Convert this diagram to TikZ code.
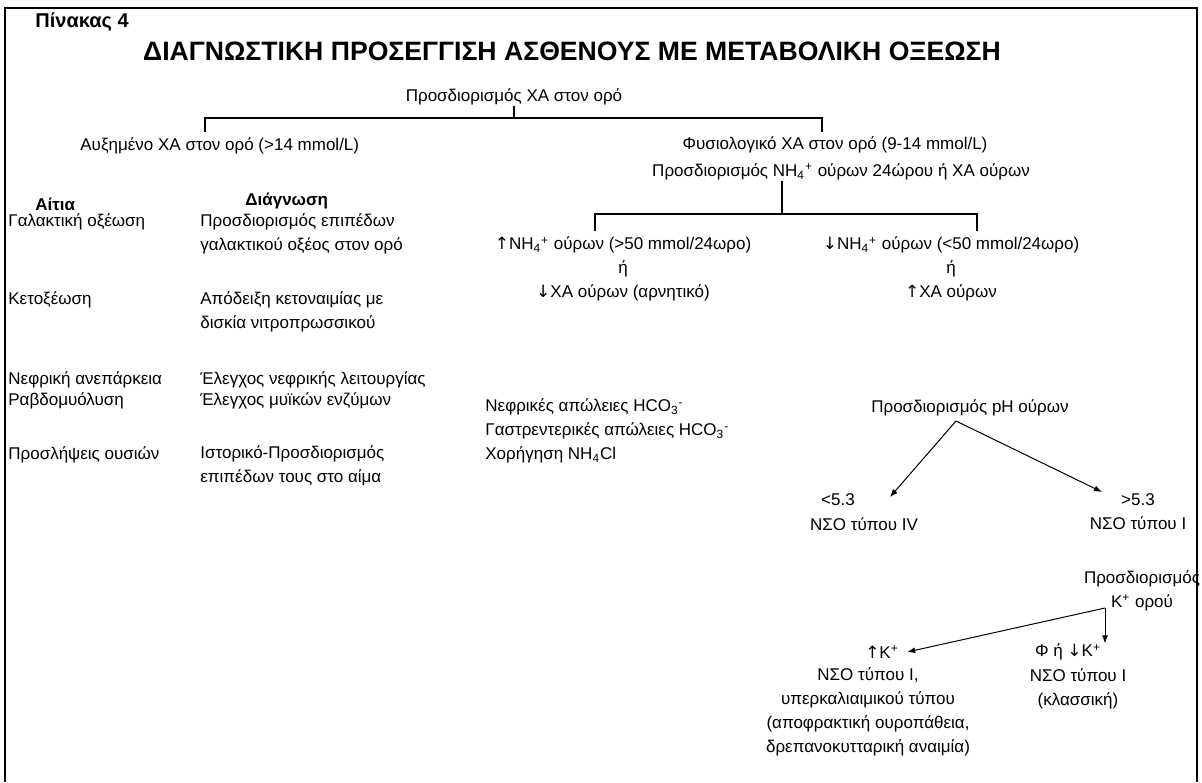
\documentclass[tikz,border=0pt]{standalone}
\usepackage{fontspec}
\setmainfont{Liberation Sans}
\newfontfamily\arrowfont{DejaVu Sans}
\usetikzlibrary{arrows.meta,positioning}

\newcommand{\uarr}{{\arrowfont\char"2191}}
\newcommand{\darr}{{\arrowfont\char"2193}}
\newcommand{\ionsub}[2]{\textsubscript{#1}\textsuperscript{#2}}

\begin{document}
\begin{tikzpicture}[x=0.5pt,y=-0.5pt,
	txt/.style={inner sep=0pt, font=\fontsize{8.5}{11.9}\selectfont},
	txtl/.style={txt, anchor=west, align=left},
	txtc/.style={txt, align=center},
	hdr/.style={txtl, font=\fontsize{8.5}{10}\selectfont\bfseries},
	brk/.style={line width=0.8pt},
	arr/.style={line width=0.5pt, -{Latex[length=4pt,width=3pt]}}]

	\useasboundingbox (0,0) rectangle (1202,782);

	% frame, open at the bottom
	\draw[line width=1.3pt] (5,782) -- (5,8) -- (1197,8) -- (1197,782);

	% heading
	\node[hdr, font=\fontsize{10}{12}\selectfont\bfseries] (tab) at (35,22) {Πίνακας 4};
	\node[txtc, font=\fontsize{13.3}{15}\selectfont\bfseries] (title) at (572,51)
		{ΔΙΑΓΝΩΣΤΙΚΗ ΠΡΟΣΕΓΓΙΣΗ ΑΣΘΕΝΟΥΣ ΜΕ ΜΕΤΑΒΟΛΙΚΗ ΟΞΕΩΣΗ};

	% first split: serum anion gap
	\node[txtc] (xa) at (514,97) {Προσδιορισμός ΧΑ στον ορό};
	\node[txtl] (high) at (80,146) {Αυξημένο ΧΑ στον ορό (>14 mmol/L)};
	\node[txtc] (norm) at (835,145) {Φυσιολογικό ΧΑ στον ορό (9-14 mmol/L)};
	\node[txtc] (nh4) at (841,172) {Προσδιορισμός NH\ionsub{4}{+} ούρων 24ώρου ή ΧΑ ούρων};

	\coordinate (b1L) at (205,118);
	\coordinate (b1R) at (822,118);
	\coordinate (b1Ld) at (205,132);
	\coordinate (b1Rd) at (822,132);
	\draw[brk] (xa.south) -- (xa.south |- b1L);
	\draw[brk] (b1Ld) -- (b1L) -- (b1R) -- (b1Rd);

	% causes and diagnosis
	\node[hdr] (cause) at (35,204) {Αίτια};
	\node[hdr] (diag) at (245,201) {Διάγνωση};

	\node[txtl] (c1) at (8,222) {Γαλακτική οξέωση};
	\node[txtl] (c2) at (8,300) {Κετοξέωση};
	\node[txtl] (c3) at (8,380) {Νεφρική ανεπάρκεια};
	\node[txtl] (c4) at (8,401) {Ραβδομυόλυση};
	\node[txtl] (c5) at (8,455) {Προσλήψεις ουσιών};

	\node[txtl] (d1) at (200,234) {Προσδιορισμός επιπέδων\\γαλακτικού οξέος στον ορό};
	\node[txtl] (d2) at (200,312) {Απόδειξη κετοναιμίας με\\δισκία νιτροπρωσσικού};
	\node[txtl] (d3) at (200,380) {Έλεγχος νεφρικής λειτουργίας};
	\node[txtl] (d4) at (200,401) {Έλεγχος μυϊκών ενζύμων};
	\node[txtl] (d5) at (200,466) {Ιστορικό-Προσδιορισμός\\επιπέδων τους στο αίμα};

	% second split: urine NH4 / anion gap
	\coordinate (b2T) at (782,214);
	\coordinate (b2L) at (595,214);
	\coordinate (b2R) at (977,214);
	\coordinate (b2Ld) at (595,231);
	\coordinate (b2Rd) at (977,231);
	\draw[brk] (b2T |- nh4.south) -- (b2T);
	\draw[brk] (b2Ld) -- (b2L) -- (b2R) -- (b2Rd);

	\node[txtc] (up1) at (623,269)
		{\uarr NH\ionsub{4}{+} ούρων (>50 mmol/24ωρο)\\ή\\\darr ΧΑ ούρων (αρνητικό)};
	\node[txtc] (dn1) at (951,269)
		{\darr NH\ionsub{4}{+} ούρων (<50 mmol/24ωρο)\\ή\\\uarr ΧΑ ούρων};

	\node[txtl] (loss) at (485,431)
		{Νεφρικές απώλειες HCO\ionsub{3}{-}\\Γαστρεντερικές απώλειες HCO\ionsub{3}{-}\\Χορήγηση NH\textsubscript{4}Cl};

	% urine pH
	\node[txtc] (ph) at (970,408) {Προσδιορισμός pH ούρων};
	\node[txtc] (lopH) at (838,500) {<5.3};
	\node[txtc] (lotype) at (864,524) {ΝΣΟ τύπου IV};
	\node[txtc] (hi) at (1138,512) {>5.3\\ΝΣΟ τύπου I};

	\coordinate (phA) at (956,421);
	\coordinate (loT) at (890,497);
	\coordinate (hiT) at (1102,492);
	\draw[arr] (phA) -- (loT);
	\draw[arr] (phA) -- (hiT);

	% serum potassium
	\node[txtc] (kq) at (1142,591) {Προσδιορισμός\\K\textsuperscript{+} ορού};
	\coordinate (kA) at (1105,608);

	\node[txtc] (kup) at (882,652) {\uarr K\textsuperscript{+}};
	\node[txtc] (hyper) at (868,712)
		{ΝΣΟ τύπου Ι,\\υπερκαλιαιμικού τύπου\\(αποφρακτική ουροπάθεια,\\δρεπανοκυτταρική αναιμία)};
	\node[txtc] (kdn) at (1068,652) {Φ ή \darr K\textsuperscript{+}};
	\node[txtc] (classic) at (1078,689) {ΝΣΟ τύπου I\\(κλασσική)};

	\draw[arr] (kA) -- ([xshift=4pt]kup.east);
	\draw[arr] (kA) -- (kA |- kdn.north);

\end{tikzpicture}
\end{document}
